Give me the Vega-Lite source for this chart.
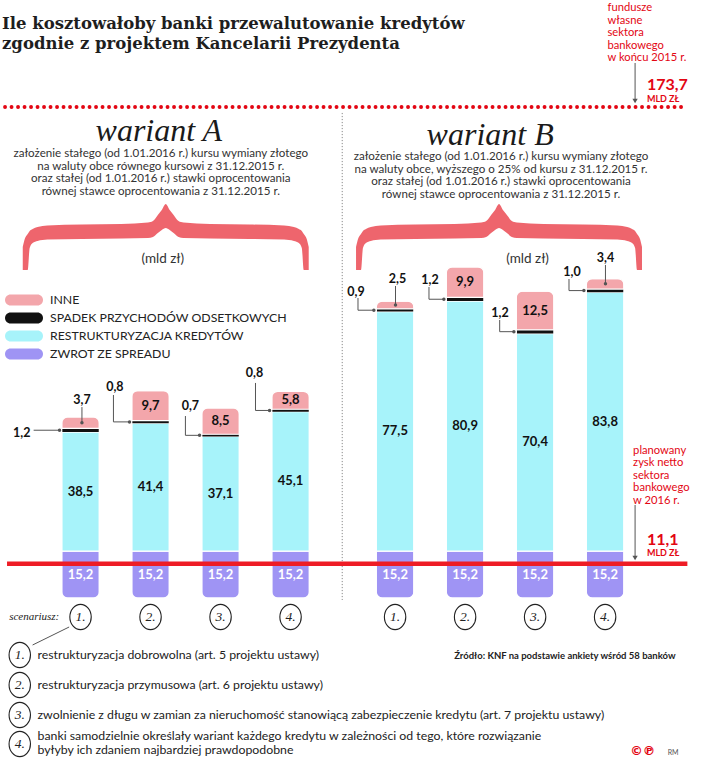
{
  "$schema": "https://vega.github.io/schema/vega-lite/v6.json",
  "width": 718,
  "height": 760,
  "autosize": {"type": "none"},
  "padding": 0,
  "background": "white",
  "title": {
    "text": ["Ile kosztowałoby banki przewalutowanie kredytów", "zgodnie z projektem Kancelarii Prezydenta"],
    "anchor": "start", "orient": "top", "frame": "group", "offset": -68, "baseline": "bottom", "dx": 2,
    "font": "DejaVu Serif", "fontSize": 16.5, "fontWeight": "bold", "color": "#1e1e1e", "lineHeight": 20
  },
  "config": {
    "view": {"stroke": null},
    "locale": {"number": {"decimal": ",", "thousands": " ", "grouping": [3], "currency": ["", " zł"]}}
  },
  "datasets": {
    "bars": [
      {"bar": "A1", "variant": "A", "scenario": "1.", "seg": "ZWROT ZE SPREADU", "value": 15.2},
      {"bar": "A1", "variant": "A", "scenario": "1.", "seg": "RESTRUKTURYZACJA KREDYTÓW", "value": 38.5},
      {"bar": "A1", "variant": "A", "scenario": "1.", "seg": "SPADEK PRZYCHODÓW ODSETKOWYCH", "value": 1.2},
      {"bar": "A1", "variant": "A", "scenario": "1.", "seg": "INNE", "value": 3.7},
      {"bar": "A2", "variant": "A", "scenario": "2.", "seg": "ZWROT ZE SPREADU", "value": 15.2},
      {"bar": "A2", "variant": "A", "scenario": "2.", "seg": "RESTRUKTURYZACJA KREDYTÓW", "value": 41.4},
      {"bar": "A2", "variant": "A", "scenario": "2.", "seg": "SPADEK PRZYCHODÓW ODSETKOWYCH", "value": 0.8},
      {"bar": "A2", "variant": "A", "scenario": "2.", "seg": "INNE", "value": 9.7},
      {"bar": "A3", "variant": "A", "scenario": "3.", "seg": "ZWROT ZE SPREADU", "value": 15.2},
      {"bar": "A3", "variant": "A", "scenario": "3.", "seg": "RESTRUKTURYZACJA KREDYTÓW", "value": 37.1},
      {"bar": "A3", "variant": "A", "scenario": "3.", "seg": "SPADEK PRZYCHODÓW ODSETKOWYCH", "value": 0.7},
      {"bar": "A3", "variant": "A", "scenario": "3.", "seg": "INNE", "value": 8.5},
      {"bar": "A4", "variant": "A", "scenario": "4.", "seg": "ZWROT ZE SPREADU", "value": 15.2},
      {"bar": "A4", "variant": "A", "scenario": "4.", "seg": "RESTRUKTURYZACJA KREDYTÓW", "value": 45.1},
      {"bar": "A4", "variant": "A", "scenario": "4.", "seg": "SPADEK PRZYCHODÓW ODSETKOWYCH", "value": 0.8},
      {"bar": "A4", "variant": "A", "scenario": "4.", "seg": "INNE", "value": 5.8},
      {"bar": "B1", "variant": "B", "scenario": "1.", "seg": "ZWROT ZE SPREADU", "value": 15.2},
      {"bar": "B1", "variant": "B", "scenario": "1.", "seg": "RESTRUKTURYZACJA KREDYTÓW", "value": 77.5},
      {"bar": "B1", "variant": "B", "scenario": "1.", "seg": "SPADEK PRZYCHODÓW ODSETKOWYCH", "value": 0.9},
      {"bar": "B1", "variant": "B", "scenario": "1.", "seg": "INNE", "value": 2.5},
      {"bar": "B2", "variant": "B", "scenario": "2.", "seg": "ZWROT ZE SPREADU", "value": 15.2},
      {"bar": "B2", "variant": "B", "scenario": "2.", "seg": "RESTRUKTURYZACJA KREDYTÓW", "value": 80.9},
      {"bar": "B2", "variant": "B", "scenario": "2.", "seg": "SPADEK PRZYCHODÓW ODSETKOWYCH", "value": 1.2},
      {"bar": "B2", "variant": "B", "scenario": "2.", "seg": "INNE", "value": 9.9},
      {"bar": "B3", "variant": "B", "scenario": "3.", "seg": "ZWROT ZE SPREADU", "value": 15.2},
      {"bar": "B3", "variant": "B", "scenario": "3.", "seg": "RESTRUKTURYZACJA KREDYTÓW", "value": 70.4},
      {"bar": "B3", "variant": "B", "scenario": "3.", "seg": "SPADEK PRZYCHODÓW ODSETKOWYCH", "value": 1.2},
      {"bar": "B3", "variant": "B", "scenario": "3.", "seg": "INNE", "value": 12.5},
      {"bar": "B4", "variant": "B", "scenario": "4.", "seg": "ZWROT ZE SPREADU", "value": 15.2},
      {"bar": "B4", "variant": "B", "scenario": "4.", "seg": "RESTRUKTURYZACJA KREDYTÓW", "value": 83.8},
      {"bar": "B4", "variant": "B", "scenario": "4.", "seg": "SPADEK PRZYCHODÓW ODSETKOWYCH", "value": 1.0},
      {"bar": "B4", "variant": "B", "scenario": "4.", "seg": "INNE", "value": 3.4}
    ],
    "segments": [
      {"seg": "ZWROT ZE SPREADU", "rank": 1},
      {"seg": "RESTRUKTURYZACJA KREDYTÓW", "rank": 2},
      {"seg": "SPADEK PRZYCHODÓW ODSETKOWYCH", "rank": 3},
      {"seg": "INNE", "rank": 4}
    ],
    "slots": [
      {"bar": "A1", "u": 1}, {"bar": "A2", "u": 2}, {"bar": "A3", "u": 3}, {"bar": "A4", "u": 4},
      {"bar": "B1", "u": 5.493}, {"bar": "B2", "u": 6.493}, {"bar": "B3", "u": 7.493}, {"bar": "B4", "u": 8.493}
    ],
    "scenarios": [
      {"u": 1, "v": -6.15, "t": "1."}, {"u": 2, "v": -6.15, "t": "2."}, {"u": 3, "v": -6.15, "t": "3."}, {"u": 4, "v": -6.15, "t": "4."},
      {"u": 5.493, "v": -6.15, "t": "1."}, {"u": 6.493, "v": -6.15, "t": "2."}, {"u": 7.493, "v": -6.15, "t": "3."}, {"u": 8.493, "v": -6.15, "t": "4."},
      {"u": 0.132, "v": -18.45, "t": "1."}, {"u": 0.132, "v": -28.16, "t": "2."}, {"u": 0.132, "v": -37.87, "t": "3."}, {"u": 0.132, "v": -47.26, "t": "4."}
    ]
  },
  "encoding": {
    "x": {"field": "u", "type": "quantitative", "scale": {"domain": [-0.079, 10.034], "nice": false, "zero": false}, "axis": null},
    "y": {"field": "v", "type": "quantitative", "scale": {"domain": [-52.44, 193.56], "nice": false, "zero": false}, "axis": null}
  },
  "layer": [
    {
      "data": {"name": "bars"},
      "transform": [
        {"lookup": "seg", "from": {"data": {"name": "segments"}, "key": "seg", "fields": ["rank"]}},
        {"lookup": "bar", "from": {"data": {"name": "slots"}, "key": "bar", "fields": ["u"]}}
      ],
      "mark": {"type": "bar", "width": 37.6, "cornerRadius": 6, "stroke": "white"},
      "encoding": {
        "y": {"field": "value", "type": "quantitative", "stack": "zero", "scale": {"domain": [-52.44, 193.56], "nice": false, "zero": false}, "axis": null},
        "color": {
          "field": "seg", "type": "nominal",
          "scale": {"domain": ["INNE", "SPADEK PRZYCHODÓW ODSETKOWYCH", "RESTRUKTURYZACJA KREDYTÓW", "ZWROT ZE SPREADU"], "range": ["#f3a6ab", "#111111", "#a7f3fa", "#9f94f4"]},
          "legend": {
            "orient": "none", "legendX": 15, "legendY": 291, "title": null, "padding": 0,
            "symbolType": "M-1.5,-0.61L1.5,-0.61A0.61,0.61,0,0,1,1.5,0.61L-1.5,0.61A0.61,0.61,0,0,1,-1.5,-0.61Z",
            "symbolSize": 324, "symbolStrokeWidth": 0, "symbolOpacity": 1,
            "labelFont": "Lato", "labelFontSize": 12.3, "labelColor": "#222222", "labelOffset": 17, "rowPadding": 2, "labelLimit": 400
          }
        },
        "order": {"field": "rank", "type": "quantitative"},
        "strokeWidth": {"condition": {"test": "datum.seg === 'SPADEK PRZYCHODÓW ODSETKOWYCH'", "value": 0}, "value": 1.2}
      }
    },
    {
      "data": {"name": "bars"},
      "transform": [
        {"lookup": "seg", "from": {"data": {"name": "segments"}, "key": "seg", "fields": ["rank"]}},
        {"lookup": "bar", "from": {"data": {"name": "slots"}, "key": "bar", "fields": ["u"]}}
      ],
      "mark": {"type": "text", "font": "Lato", "fontSize": 13, "fontWeight": "bold", "baseline": "middle", "align": "center"},
      "encoding": {
        "y": {"field": "value", "type": "quantitative", "stack": "zero", "bandPosition": 0.5, "scale": {"domain": [-52.44, 193.56], "nice": false, "zero": false}, "axis": null},
        "detail": {"field": "seg"},
        "order": {"field": "rank", "type": "quantitative"},
        "text": {"condition": {"test": "datum.seg === 'SPADEK PRZYCHODÓW ODSETKOWYCH' || (datum.seg === 'INNE' && datum.value < 5)", "value": ""}, "field": "value", "type": "quantitative", "format": ".1f"},
        "color": {"condition": {"test": "datum.seg === 'ZWROT ZE SPREADU'", "value": "#ffffff"}, "value": "#111111"}
      }
    },
    {
      "data": {"name": "scenarios"},
      "mark": {"type": "point", "shape": "M0,-1A0.846,1,0,1,1,0,1A0.846,1,0,1,1,0,-1Z", "size": 640, "filled": false, "stroke": "#222222", "strokeWidth": 1.1, "opacity": 1}
    },
    {
      "data": {"name": "scenarios"},
      "mark": {"type": "text", "font": "Liberation Serif", "fontStyle": "italic", "fontSize": 13.5, "baseline": "middle", "align": "center", "color": "#222222"},
      "encoding": {"text": {"field": "t", "type": "nominal"}}
    },
    {
      "data": {"values": [
        {"b": "A", "u": 0.1746, "v": 113.61, "v2": 106.17},
        {"b": "A", "u": 0.2028, "v": 116.20, "v2": 106.17},
        {"b": "A", "u": 0.2451, "v": 117.82, "v2": 106.17},
        {"b": "A", "u": 0.2732, "v": 118.79, "v2": 113.29},
        {"b": "A", "u": 0.3155, "v": 119.44, "v2": 114.91},
        {"b": "A", "u": 0.3859, "v": 120.08, "v2": 115.55},
        {"b": "A", "u": 0.5268, "v": 120.57, "v2": 116.04},
        {"b": "A", "u": 1.0197, "v": 120.89, "v2": 116.20},
        {"b": "A", "u": 1.5831, "v": 121.06, "v2": 116.36},
        {"b": "A", "u": 1.9634, "v": 121.54, "v2": 116.52},
        {"b": "A", "u": 2.0338, "v": 122.03, "v2": 116.85},
        {"b": "A", "u": 2.1042, "v": 123.97, "v2": 118.14},
        {"b": "A", "u": 2.1606, "v": 125.59, "v2": 119.11},
        {"b": "A", "u": 2.2169, "v": 127.53, "v2": 119.76},
        {"b": "A", "u": 2.2732, "v": 125.59, "v2": 119.11},
        {"b": "A", "u": 2.3296, "v": 123.97, "v2": 118.14},
        {"b": "A", "u": 2.4000, "v": 122.03, "v2": 116.85},
        {"b": "A", "u": 2.4704, "v": 121.54, "v2": 116.52},
        {"b": "A", "u": 2.8507, "v": 121.06, "v2": 116.36},
        {"b": "A", "u": 3.4141, "v": 120.89, "v2": 116.20},
        {"b": "A", "u": 3.9070, "v": 120.57, "v2": 116.04},
        {"b": "A", "u": 4.0479, "v": 120.08, "v2": 115.55},
        {"b": "A", "u": 4.1183, "v": 119.44, "v2": 114.91},
        {"b": "A", "u": 4.1606, "v": 118.79, "v2": 113.29},
        {"b": "A", "u": 4.1887, "v": 117.82, "v2": 106.17},
        {"b": "A", "u": 4.2310, "v": 116.20, "v2": 106.17},
        {"b": "A", "u": 4.2592, "v": 113.61, "v2": 106.17},
        {"b": "B", "u": 4.9352, "v": 113.61, "v2": 106.17},
        {"b": "B", "u": 4.9634, "v": 116.20, "v2": 106.17},
        {"b": "B", "u": 5.0056, "v": 117.82, "v2": 106.17},
        {"b": "B", "u": 5.0338, "v": 118.79, "v2": 113.29},
        {"b": "B", "u": 5.0761, "v": 119.44, "v2": 114.91},
        {"b": "B", "u": 5.1465, "v": 120.08, "v2": 115.55},
        {"b": "B", "u": 5.2873, "v": 120.57, "v2": 116.04},
        {"b": "B", "u": 5.7803, "v": 120.89, "v2": 116.20},
        {"b": "B", "u": 6.3437, "v": 121.06, "v2": 116.36},
        {"b": "B", "u": 6.7239, "v": 121.54, "v2": 116.52},
        {"b": "B", "u": 6.7944, "v": 122.03, "v2": 116.85},
        {"b": "B", "u": 6.8648, "v": 123.97, "v2": 118.14},
        {"b": "B", "u": 6.9211, "v": 125.59, "v2": 119.11},
        {"b": "B", "u": 6.9775, "v": 127.53, "v2": 119.76},
        {"b": "B", "u": 7.0338, "v": 125.59, "v2": 119.11},
        {"b": "B", "u": 7.0901, "v": 123.97, "v2": 118.14},
        {"b": "B", "u": 7.1606, "v": 122.03, "v2": 116.85},
        {"b": "B", "u": 7.2310, "v": 121.54, "v2": 116.52},
        {"b": "B", "u": 7.6113, "v": 121.06, "v2": 116.36},
        {"b": "B", "u": 8.1746, "v": 120.89, "v2": 116.20},
        {"b": "B", "u": 8.6676, "v": 120.57, "v2": 116.04},
        {"b": "B", "u": 8.8085, "v": 120.08, "v2": 115.55},
        {"b": "B", "u": 8.8789, "v": 119.44, "v2": 114.91},
        {"b": "B", "u": 8.9211, "v": 118.79, "v2": 113.29},
        {"b": "B", "u": 8.9493, "v": 117.82, "v2": 106.17},
        {"b": "B", "u": 8.9916, "v": 116.20, "v2": 106.17},
        {"b": "B", "u": 9.0197, "v": 113.61, "v2": 106.17}
      ]},
      "mark": {"type": "area", "interpolate": "monotone", "color": "#e30613", "opacity": 0.62},
      "encoding": {"y2": {"field": "v2"}, "detail": {"field": "b"}}
    },
    {
      "data": {"values": [
        {"u": 0.33, "v": 54.3, "u2": 0.70, "v2": 54.3},
        {"u": 1.02, "v": 61.8, "u2": 1.02, "v2": 56.75},
        {"u": 1.47, "v": 65.7, "u2": 1.47, "v2": 57.0},
        {"u": 1.47, "v": 57.0, "u2": 1.70, "v2": 57.0},
        {"u": 2.498, "v": 58.9, "u2": 2.498, "v2": 52.65},
        {"u": 2.498, "v": 52.65, "u2": 2.70, "v2": 52.65},
        {"u": 3.499, "v": 69.6, "u2": 3.499, "v2": 60.7},
        {"u": 3.499, "v": 60.7, "u2": 3.70, "v2": 60.7},
        {"u": 4.963, "v": 97.1, "u2": 4.963, "v2": 93.15},
        {"u": 4.963, "v": 93.15, "u2": 5.19, "v2": 93.15},
        {"u": 5.499, "v": 100.99, "u2": 5.499, "v2": 94.85},
        {"u": 5.977, "v": 100.66, "u2": 5.977, "v2": 96.7},
        {"u": 5.977, "v": 96.7, "u2": 6.19, "v2": 96.7},
        {"u": 6.987, "v": 89.98, "u2": 6.987, "v2": 86.2},
        {"u": 6.987, "v": 86.2, "u2": 7.19, "v2": 86.2},
        {"u": 7.977, "v": 103.25, "u2": 7.977, "v2": 99.5},
        {"u": 7.977, "v": 99.5, "u2": 8.19, "v2": 99.5},
        {"u": 8.498, "v": 107.8, "u2": 8.498, "v2": 101.7},
        {"u": 8.921, "v": 173.17, "u2": 8.921, "v2": 161.2},
        {"u": 8.921, "v": 30.1, "u2": 8.921, "v2": 13.2},
        {"u": 0.837, "v": -9.39, "u2": 0.315, "v2": -15.22}
      ]},
      "mark": {"type": "rule", "color": "#555555", "strokeWidth": 1},
      "encoding": {"x2": {"field": "u2"}, "y2": {"field": "v2"}}
    },
    {
      "data": {"values": [{"u": -0.079, "u2": 9.668, "v": 158.93, "v2": 158.93}]},
      "mark": {"type": "rule", "color": "#e30613", "strokeWidth": 3.8, "strokeDash": [0.1, 6.4], "strokeCap": "round"},
      "encoding": {"x2": {"field": "u2"}, "y2": {"field": "v2"}}
    },
    {
      "data": {"values": [{"u": 4.738, "u2": 4.738, "v": 157.0, "v2": -0.65}]},
      "mark": {"type": "rule", "color": "#8a8a8a", "strokeWidth": 1, "strokeDash": [1.2, 1.8]},
      "encoding": {"x2": {"field": "u2"}, "y2": {"field": "v2"}}
    },
    {
      "data": {"values": [{"u": -0.05, "u2": 9.668, "v": 11.1, "v2": 11.1}]},
      "mark": {"type": "rule", "color": "#ee1c25", "strokeWidth": 4.5},
      "encoding": {"x2": {"field": "u2"}, "y2": {"field": "v2"}}
    },
    {
      "data": {"values": [
        {"u": 0.70, "v": 54.3}, {"u": 1.02, "v": 56.75}, {"u": 1.70, "v": 57.0}, {"u": 2.70, "v": 52.65},
        {"u": 3.70, "v": 60.7}, {"u": 5.19, "v": 93.15}, {"u": 5.499, "v": 94.85}, {"u": 6.19, "v": 96.7},
        {"u": 7.19, "v": 86.2}, {"u": 8.19, "v": 99.5}, {"u": 8.498, "v": 101.7}
      ]},
      "mark": {"type": "circle", "size": 12, "color": "#555555", "opacity": 1}
    },
    {
      "data": {"values": [{"u": 8.921, "v": 160.87}, {"u": 8.921, "v": 12.95}]},
      "mark": {"type": "point", "shape": "triangle-down", "size": 28, "filled": true, "color": "#555555", "opacity": 1}
    },
    {
      "data": {"values": [{"u": 2.118, "v": 147.92, "t": "wariant A"}, {"u": 6.851, "v": 146.63, "t": "wariant B"}]},
      "mark": {"type": "text", "font": "Liberation Serif", "fontStyle": "italic", "fontSize": 32, "align": "center", "baseline": "alphabetic", "color": "#1a1a1a"},
      "encoding": {"text": {"field": "t", "type": "nominal"}}
    },
    {
      "data": {"values": [
        {"u": 2.146, "v": 142.58, "t": ["założenie stałego (od 1.01.2016 r.) kursu wymiany złotego", "na waluty obce równego kursowi z 31.12.2015 r.", "oraz stałej (od 1.01.2016 r.) stawki oprocentowania", "równej stawce oprocentowania z 31.12.2015 r."]},
        {"u": 7.006, "v": 141.61, "t": ["założenie stałego (od 1.01.2016 r.) kursu wymiany złotego", "na waluty obce, wyższego o 25% od kursu z 31.12.2015 r.", "oraz stałej (od 1.01.2016 r.) stawki oprocentowania", "równej stawce oprocentowania z 31.12.2015 r."]}
      ]},
      "mark": {"type": "text", "font": "Lato", "fontSize": 11.6, "align": "center", "baseline": "alphabetic", "lineHeight": 12.4, "color": "#333333"},
      "encoding": {"text": {"field": "t", "type": "nominal"}}
    },
    {
      "data": {"values": [{"u": 2.175, "v": 108.43, "t": "(mld zł)"}, {"u": 7.386, "v": 108.43, "t": "(mld zł)"}]},
      "mark": {"type": "text", "font": "Lato", "fontSize": 13.5, "align": "center", "baseline": "alphabetic", "color": "#333333"},
      "encoding": {"text": {"field": "t", "type": "nominal"}}
    },
    {
      "data": {"values": [
        {"u": 8.527, "v": 189.84, "t": ["fundusze", "własne", "sektora", "bankowego", "w końcu 2015 r."]},
        {"u": 8.893, "v": 46.61, "t": ["planowany", "zysk netto", "sektora", "bankowego", "w 2016 r."]}
      ]},
      "mark": {"type": "text", "font": "Lato", "fontSize": 11.2, "align": "left", "baseline": "alphabetic", "lineHeight": 12.4, "color": "#e30613"},
      "encoding": {"text": {"field": "t", "type": "nominal"}}
    },
    {
      "data": {"values": [{"u": 9.09, "v": 164.43, "val": 173.7}, {"u": 9.09, "v": 17.15, "val": 11.1}]},
      "mark": {"type": "text", "font": "Lato", "fontSize": 16, "fontWeight": "bold", "align": "left", "baseline": "alphabetic", "color": "#e30613"},
      "encoding": {"text": {"field": "val", "type": "quantitative", "format": ".1f"}}
    },
    {
      "data": {"values": [{"u": 9.09, "v": 160.54, "t": "MLD ZŁ"}, {"u": 9.09, "v": 13.59, "t": "MLD ZŁ"}]},
      "mark": {"type": "text", "font": "Lato", "fontSize": 9, "fontWeight": "bold", "align": "left", "baseline": "alphabetic", "color": "#e30613"},
      "encoding": {"text": {"field": "t", "type": "nominal"}}
    },
    {
      "data": {"values": [
        {"u": 0.16, "v": 53.41, "val": 1.2}, {"u": 1.02, "v": 64.09, "val": 3.7}, {"u": 1.49, "v": 68.3, "val": 0.8},
        {"u": 2.569, "v": 62.1, "val": 0.7}, {"u": 3.485, "v": 72.83, "val": 0.8}, {"u": 4.935, "v": 99.04, "val": 0.9},
        {"u": 5.527, "v": 103.25, "val": 2.5}, {"u": 5.992, "v": 102.93, "val": 1.2}, {"u": 6.992, "v": 92.25, "val": 1.2},
        {"u": 8.02, "v": 105.52, "val": 1.0}, {"u": 8.498, "v": 110.05, "val": 3.4}
      ]},
      "mark": {"type": "text", "font": "Lato", "fontSize": 12.5, "fontWeight": "bold", "align": "center", "baseline": "middle", "color": "#111111"},
      "encoding": {"text": {"field": "val", "type": "quantitative", "format": ".1f"}}
    },
    {
      "data": {"values": [{"u": 0.696, "v": -6.15, "t": "scenariusz:"}]},
      "mark": {"type": "text", "font": "Liberation Serif", "fontStyle": "italic", "fontSize": 11, "align": "right", "baseline": "middle", "color": "#222222"},
      "encoding": {"text": {"field": "t", "type": "nominal"}}
    },
    {
      "data": {"values": [
        {"u": 0.386, "v": -19.75, "t": "restrukturyzacja dobrowolna (art. 5 projektu ustawy)"},
        {"u": 0.386, "v": -29.46, "t": "restrukturyzacja przymusowa (art. 6 projektu ustawy)"},
        {"u": 0.386, "v": -39.17, "t": "zwolnienie z długu w zamian za nieruchomość stanowiącą zabezpieczenie kredytu (art. 7 projektu ustawy)"},
        {"u": 0.386, "v": -46.0, "t": ["banki samodzielnie określały wariant każdego kredytu w zależności od tego, które rozwiązanie", "byłyby ich zdaniem najbardziej prawdopodobne"]}
      ]},
      "mark": {"type": "text", "font": "Lato", "fontSize": 12.3, "align": "left", "baseline": "alphabetic", "lineHeight": 13.6, "color": "#222222"},
      "encoding": {"text": {"field": "t", "type": "nominal"}}
    },
    {
      "data": {"values": [{"u": 9.499, "v": -19.75, "t": "Źródło: KNF na podstawie ankiety wśród 58 banków"}]},
      "mark": {"type": "text", "font": "Lato", "fontSize": 9.5, "fontWeight": "bold", "align": "right", "baseline": "alphabetic", "color": "#222222"},
      "encoding": {"text": {"field": "t", "type": "nominal"}}
    },
    {
      "data": {"values": [{"u": 8.851, "v": -50.82, "t": "©℗"}]},
      "mark": {"type": "text", "font": "DejaVu Sans", "fontSize": 12.5, "fontWeight": "bold", "align": "left", "baseline": "alphabetic", "color": "#e30613"},
      "encoding": {"text": {"field": "t", "type": "nominal"}}
    },
    {
      "data": {"values": [{"u": 9.386, "v": -50.82, "t": "RM"}]},
      "mark": {"type": "text", "font": "Lato", "fontSize": 7, "align": "left", "baseline": "alphabetic", "color": "#555555"},
      "encoding": {"text": {"field": "t", "type": "nominal"}}
    }
  ]
}
